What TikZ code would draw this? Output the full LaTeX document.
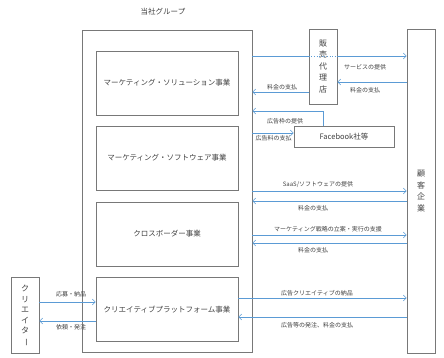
\documentclass[tikz,border=0pt]{standalone}
\usepackage{fontspec}
\setmainfont{Noto Sans CJK JP}
\usetikzlibrary{arrows.meta}
\usetikzlibrary{positioning}

\definecolor{blueline}{RGB}{91,155,213}
\definecolor{boxgray}{RGB}{120,120,120}
\definecolor{textgray}{RGB}{64,64,64}

\begin{document}
\begin{tikzpicture}[x=1pt, y=-1pt, line width=0.6pt,
  box/.style={draw=boxgray, inner sep=0pt, text=textgray, font=\fontsize{7.5}{8}\selectfont},
  tate/.style={box, align=center, font=\fontsize{8}{11.5}\selectfont},
  flow/.style={draw=blueline, -{Straight Barb[length=3pt,width=6pt]}},
  lbl/.style={font=\fontsize{6}{7}\selectfont, text=textgray, inner sep=1pt}]

\useasboundingbox (0,0) rectangle (444,358);

\node[box, minimum width=170pt, minimum height=322pt] (group) at (167,191) {};
\node[text=textgray, font=\fontsize{7.5}{8}\selectfont] (title) at (163,12) {当社グループ};

\foreach \y/\name/\txt in {83/sol/マーケティング・ソリューション事業, 158/soft/マーケティング・ソフトウェア事業, 234/cross/クロスボーダー事業, 309.5/cp/クリエイティブプラットフォーム事業}
    \node[box, minimum width=142pt, minimum height=64pt] (\name) at (167,\y) {\txt};

\node[tate, font=\fontsize{8}{10.5}\selectfont, minimum width=28pt, minimum height=76pt] (creator) at (25,315) {ク\\リ\\エ\\イ\\タ\\\smash{\rotatebox[origin=c]{-90}{ー}}};
\node[tate, minimum width=28pt, minimum height=75pt] (agent) at (323,66.5) {販\\売\\代\\理\\店};
\node[tate, minimum width=28pt, minimum height=324pt] (client) at (421,191) {顧\\客\\企\\業};
\node[box, minimum width=100pt, minimum height=21pt] (fb) at (344,136.5) {Facebook社等};

% sales agency
\draw[blueline] (group.east |- 0,56) -- (agent.west |- 0,56);
\draw[blueline, dotted] (agent.west |- 0,56) -- (agent.east |- 0,56);
\draw[flow] (agent.east |- 0,56) -- (client.west |- 0,56);
\node[lbl] at (365,67) {サービスの提供};
\draw[flow] (client.west |- 0,82) -- (agent.east |- 0,82);
\node[lbl] at (365,90) {料金の支払};
\draw[flow] (agent.west |- 0,92) -- (group.east |- 0,92);
\node[lbl] at (282,87.5) {料金の支払};

% facebook
\draw[flow] (fb.north -| 323,0) |- (group.east |- 0,111);
\node[lbl] at (285,121) {広告枠の提供};
\draw[flow] (group.east |- 0,133) -- (fb.west |- 0,133);
\node[lbl] at (273.5,138) {広告料の支払};

% software
\draw[flow] (group.east |- 0,191) -- (client.west |- 0,191);
\node[lbl] at (318,185) {SaaS/ソフトウェアの提供};
\draw[flow] (client.west |- 0,201) -- (group.east |- 0,201);
\node[lbl] at (313,208) {料金の支払};

% cross border
\draw[flow] (group.east |- 0,235) -- (client.west |- 0,235);
\node[lbl] at (328,229) {マーケティング戦略の立案・実行の支援};
\draw[flow] (client.west |- 0,243) -- (group.east |- 0,243);
\node[lbl] at (313,250) {料金の支払};

% creative platform
\draw[flow] (cp.east |- 0,298) -- (client.west |- 0,298);
\node[lbl] at (317,293) {広告クリエイティブの納品};
\draw[flow] (client.west |- 0,317) -- (cp.east |- 0,317);
\node[lbl] at (317,325) {広告等の発注、料金の支払};

\draw[flow] (creator.east |- 0,302) -- (cp.west |- 0,302);
\node[lbl] at (71,294.5) {応募・納品};
\draw[flow] (cp.west |- 0,321) -- (creator.east |- 0,321);
\node[lbl] at (71,327.5) {依頼・発注};

\end{tikzpicture}
\end{document}
